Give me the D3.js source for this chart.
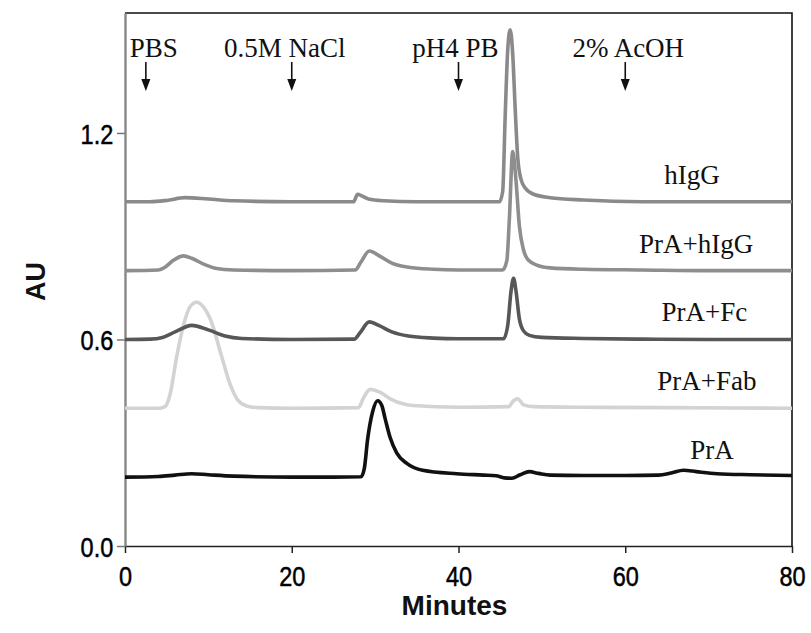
<!DOCTYPE html>
<html lang="en">
<head>
<meta charset="utf-8">
<title>Chromatograms</title>
<script src="https://cdnjs.cloudflare.com/ajax/libs/d3/7.8.5/d3.min.js"></script>
<style>
    body { margin: 0; background: #fff; }
    .tick text { font-family: "Liberation Sans", Arial, sans-serif; font-size: 28px; fill: #000; stroke: #000; stroke-width: 0.5px; }
    .serif { font-family: "Liberation Serif", "Times New Roman", serif; font-size: 27px; fill: #111; }
    .axlabel { font-family: "Liberation Sans", Arial, sans-serif; font-weight: bold; fill: #111; }
</style>
</head>
<body>
<svg id="chart" width="811" height="633"></svg>
<script>
    // series (minutes, AU)
    const seriesNames = ["hIgG", "PrA+hIgG", "PrA+Fc", "PrA+Fab", "PrA"];

    const hIgG_t = [0, 3, 5, 7.2, 10, 13, 20, 27.4, 27.9, 28.4, 29.2, 31, 35, 40, 44.9, 45.3, 45.6, 45.9, 46.2, 46.5, 46.8, 47.1, 47.5, 48, 49, 51, 55, 62, 70, 80];
    const hIgG_v = [1.0, 1.0, 1.004, 1.012, 1.008, 1.003, 1.0, 1.0, 1.022, 1.017, 1.008, 1.003, 1.0, 1.0, 1.0, 1.03, 1.25, 1.44, 1.5, 1.43, 1.27, 1.13, 1.065, 1.04, 1.022, 1.012, 1.005, 1.0, 1.0, 1.0];

    const praHigg_t = [0, 4, 4.8, 5.8, 7, 8, 9.5, 11, 13, 20, 27.6, 28.3, 29.3, 30.5, 32, 34, 37, 40, 45.3, 45.8, 46.1, 46.5, 46.9, 47.3, 47.8, 48.4, 49.5, 51, 55, 62, 70, 80];
    const praHigg_v = [0.8, 0.802, 0.81, 0.83, 0.843, 0.836, 0.818, 0.806, 0.802, 0.8, 0.802, 0.825, 0.857, 0.843, 0.822, 0.81, 0.804, 0.802, 0.802, 0.83, 0.95, 1.146, 1.06, 0.93, 0.86, 0.83, 0.815, 0.808, 0.804, 0.802, 0.8, 0.8];

    const praFc_t = [0, 3, 4.5, 6, 8, 10, 12, 14, 20, 27.5, 28.2, 29.3, 30.5, 32, 34, 37, 40, 45.4, 45.9, 46.3, 46.6, 46.9, 47.3, 47.8, 48.5, 50, 55, 62, 70, 80];
    const praFc_v = [0.6, 0.601, 0.606, 0.622, 0.641, 0.628, 0.61, 0.603, 0.6, 0.601, 0.62, 0.651, 0.64, 0.622, 0.61, 0.604, 0.602, 0.602, 0.64, 0.74, 0.778, 0.74, 0.66, 0.625, 0.612, 0.606, 0.603, 0.601, 0.6, 0.6];

    const praFab_t = [0, 4, 4.8, 5.4, 6.2, 7, 7.8, 8.6, 9.4, 10.3, 11.6, 12.6, 13.5, 14.6, 16, 20, 28, 28.6, 29.4, 30.5, 32, 34.5, 40, 46, 46.6, 47.1, 47.8, 49, 55, 65, 80];
    const praFab_v = [0.4, 0.4, 0.405, 0.44, 0.55, 0.64, 0.695, 0.708, 0.695, 0.655, 0.55, 0.47, 0.425, 0.407, 0.402, 0.4, 0.402, 0.43, 0.455, 0.448, 0.425, 0.408, 0.403, 0.405, 0.422, 0.428, 0.41, 0.405, 0.403, 0.402, 0.4];

    const prA_t = [0, 4, 6, 8, 10, 13, 20, 25, 28.3, 28.7, 29.1, 29.7, 30.3, 30.8, 31.2, 31.8, 32.6, 33.8, 35.7, 39.8, 43, 44.5, 45.5, 46.4, 47.4, 48.5, 49.6, 51, 55, 60, 64, 65.5, 67, 68.5, 71, 75, 80];
    const prA_v = [0.2, 0.202, 0.206, 0.21, 0.207, 0.203, 0.2, 0.2, 0.201, 0.225, 0.31, 0.39, 0.422, 0.408, 0.37, 0.315, 0.27, 0.24, 0.22, 0.21, 0.206, 0.204, 0.198, 0.197, 0.207, 0.216, 0.211, 0.206, 0.205, 0.205, 0.206, 0.212, 0.22, 0.216, 0.21, 0.207, 0.205];

    const seriesTimes = [hIgG_t, praHigg_t, praFc_t, praFab_t, prA_t];
    const seriesValues = [hIgG_v, praHigg_v, praFc_v, praFab_v, prA_v];
    const seriesBase = [1.0, 0.8, 0.6, 0.4, 0.2];

    // buffer change annotations
    const bufferLabels = ["PBS", "0.5M NaCl", "pH4 PB", "2% AcOH"];
    const bufferTimes = [2.5, 20, 40, 60];

    const xTicks = [0, 20, 40, 60, 80];
    const yTicks = [0.0, 0.6, 1.2];

    // styling / layout
    const colors = ["#8a8a8a", "#8e8e8e", "#575757", "#d3d3d3", "#111111"];
    const labelAt = [68.0, 68.5, 69.5, 69.8, 70.4];   // minutes, label centre
    const bufferNudge = [8, -7, -3, 3];               // px shift of label text

    const margin = {top: 13, right: 19, bottom: 87, left: 125};
    const W = 811, H = 633;
    const width = W - margin.left - margin.right,
          height = H - margin.top - margin.bottom;

    const x = d3.scaleLinear().domain([0, 80]).range([0, width]);
    const y = d3.scaleLinear().domain([0, 1.5485]).range([height, 0]);

    const svg = d3.select("#chart")
      .append("g")
        .attr("transform", "translate(" + margin.left + "," + margin.top + ")");

    // frame top + right
    svg.append("path")
        .attr("d", "M0,0H" + width + "V" + height)
        .attr("fill", "none")
        .attr("stroke", "#111")
        .attr("stroke-width", 1.6);

    // x axis
    const xAxis = svg.append("g")
        .attr("transform", "translate(0," + height + ")")
        .call(d3.axisBottom(x).tickValues(xTicks).tickSize(7).tickPadding(13).tickSizeOuter(0));
    xAxis.select(".domain").attr("stroke", "#222").attr("stroke-width", 1.6);
    xAxis.selectAll(".tick line").attr("stroke", "#222").attr("stroke-width", 1.5);
    xAxis.selectAll(".tick text").attr("transform", "scale(0.84,1)");

    // y axis
    const yAxis = svg.append("g")
        .call(d3.axisLeft(y).tickValues(yTicks).tickFormat(d3.format(".1f")).tickSize(8).tickPadding(6).tickSizeOuter(0));
    yAxis.select(".domain").attr("stroke", "#888").attr("stroke-width", 2.4);
    yAxis.selectAll(".tick line").attr("stroke", "#777").attr("stroke-width", 1.5);
    yAxis.selectAll(".tick text").attr("transform", "scale(0.84,1)").attr("dy", "0.36em");

    // axis titles
    svg.append("text")
        .attr("class", "axlabel")
        .attr("transform", "translate(" + (-80) + "," + (height / 2 + 2) + ") rotate(-90)")
        .attr("text-anchor", "middle")
        .attr("font-size", 27)
        .text("AU");

    svg.append("text")
        .attr("class", "axlabel")
        .attr("x", x(40) - 4)
        .attr("y", height + 69)
        .attr("text-anchor", "middle")
        .attr("font-size", 28)
        .text("Minutes");

    // traces
    const line = d3.line()
        .x(d => x(d[0]))
        .y(d => y(d[1]))
        .curve(d3.curveMonotoneX);

    const order = [3, 0, 1, 2, 4];
    order.forEach(i => {
        const pts = d3.zip(seriesTimes[i], seriesValues[i]);
        svg.append("path")
            .datum(pts)
            .attr("fill", "none")
            .attr("stroke", colors[i])
            .attr("stroke-width", 3.6)
            .attr("stroke-linejoin", "round")
            .attr("d", line);
    });

    // series labels
    svg.selectAll(".slabel")
        .data(seriesNames)
        .enter().append("text")
        .attr("class", "serif")
        .attr("x", (d, i) => x(labelAt[i]))
        .attr("y", (d, i) => y(seriesBase[i]) - 18)
        .attr("text-anchor", "middle")
        .text(d => d);

    // buffer arrows
    const arrows = svg.selectAll(".buf")
        .data(bufferLabels)
        .enter().append("g")
        .attr("transform", (d, i) => "translate(" + x(bufferTimes[i]) + ",0)");

    arrows.append("text")
        .attr("class", "serif")
        .attr("x", (d, i) => bufferNudge[i])
        .attr("y", 44)
        .attr("text-anchor", "middle")
        .text(d => d);

    arrows.append("line")
        .attr("y1", 49).attr("y2", 68)
        .attr("stroke", "#111")
        .attr("stroke-width", 1.6);

    arrows.append("path")
        .attr("d", "M-4.5,66L4.5,66L0,78Z")
        .attr("fill", "#111");
</script>
</body>
</html>
